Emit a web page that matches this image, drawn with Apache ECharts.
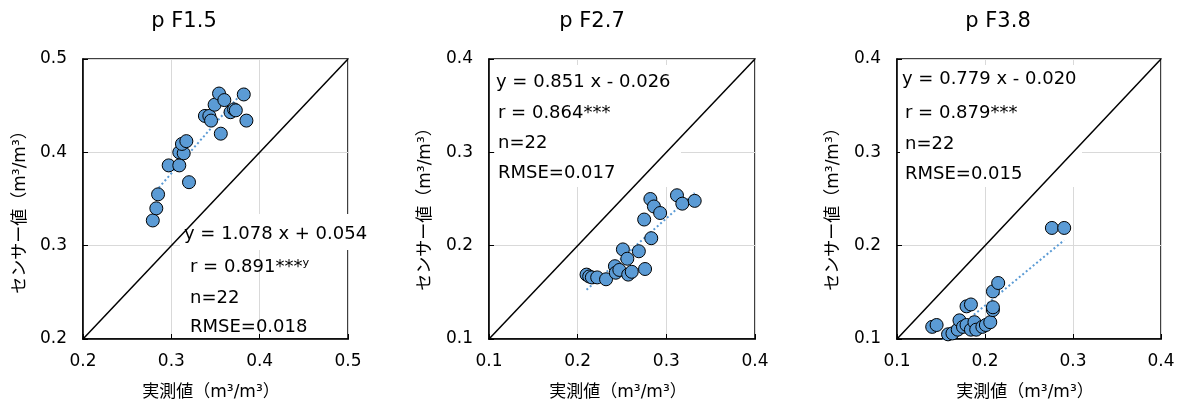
<!DOCTYPE html>
<html><head><meta charset="utf-8">
<script src="https://cdn.jsdelivr.net/npm/echarts@6.0.0/dist/echarts.min.js"></script>
<style>html,body{margin:0;padding:0;background:#fff}#c{width:1183px;height:403px}</style>
</head><body><div id="c"></div>
<script>
// ---- data ----
const panelTitles = ['p F1.5', 'p F2.7', 'p F3.8'];
const xAxisName = '実測値（m³/m³）';
const yAxisName = 'センサー値（m³/m³）';
const axisMin = [0.2, 0.1, 0.1];
const axisMax = [0.5, 0.4, 0.4];
const tickInterval = 0.1;

const pf15X = [0.279, 0.283, 0.285, 0.297, 0.309, 0.320, 0.309, 0.314, 0.312, 0.317, 0.338, 0.343, 0.345, 0.349, 0.354, 0.360, 0.367, 0.371, 0.373, 0.382, 0.385, 0.356];
const pf15Y = [0.327, 0.340, 0.355, 0.386, 0.386, 0.368, 0.400, 0.399, 0.409, 0.412, 0.439, 0.439, 0.434, 0.451, 0.463, 0.456, 0.443, 0.446, 0.445, 0.462, 0.434, 0.420];

const pf27X = [0.210, 0.213, 0.216, 0.222, 0.232, 0.242, 0.243, 0.247, 0.251, 0.256, 0.257, 0.261, 0.269, 0.276, 0.275, 0.283, 0.282, 0.286, 0.293, 0.312, 0.318, 0.332];
const pf27Y = [0.169, 0.167, 0.166, 0.166, 0.164, 0.178, 0.171, 0.174, 0.196, 0.186, 0.169, 0.172, 0.194, 0.175, 0.228, 0.208, 0.250, 0.242, 0.235, 0.254, 0.245, 0.248];

const pf38X = [0.140, 0.145, 0.158, 0.163, 0.169, 0.171, 0.175, 0.179, 0.179, 0.184, 0.184, 0.188, 0.190, 0.197, 0.201, 0.206, 0.209, 0.209, 0.209, 0.215, 0.276, 0.290];
const pf38Y = [0.113, 0.115, 0.105, 0.106, 0.110, 0.120, 0.113, 0.115, 0.135, 0.137, 0.110, 0.118, 0.110, 0.113, 0.115, 0.118, 0.131, 0.134, 0.151, 0.160, 0.219, 0.219];

const slopes = [1.078, 0.851, 0.779];
const intercepts = [0.054, -0.026, -0.020];
const eqLabels = ['y = 1.078 x + 0.054', 'y = 0.851 x - 0.026', 'y = 0.779 x - 0.020'];
const rLabels = ['r = 0.891***ʸ', 'r = 0.864***', 'r = 0.879***'];
const nLabels = ['n=22', 'n=22', 'n=22'];
const rmseLabels = ['RMSE=0.018', 'RMSE=0.017', 'RMSE=0.015'];

// ---- layout / styles ----
const FONT = '"DejaVu Sans", "Noto Sans CJK JP", sans-serif';
const xs = [pf15X, pf27X, pf38X];
const ys = [pf15Y, pf27Y, pf38Y];
const gridPos = [
  {left: 83, top: 59, width: 265, height: 280},
  {left: 489, top: 59, width: 266, height: 280},
  {left: 897, top: 59, width: 264, height: 280}
];
const titlePos = [[184, 22], [592, 22], [998, 22]];
const xNamePos = [[211, 393], [618, 393], [1025, 393]];
const yNamePos = [[21, 208], [426, 205], [834, 205]];
// [x, y] for the 4 text lines
const textPos = [
  [[184, 234], [190, 267], [190, 298], [190, 327]],
  [[496, 82], [498, 113], [498, 143], [498, 173]],
  [[902, 79], [905, 113], [905, 144], [905, 174]]
];
const boxes = [
  {x: 180, y: 214, width: 194, height: 36},
  {x: 495, y: 65, width: 186, height: 122},
  {x: 900, y: 65, width: 182, height: 122}
];

function axisCommon(i, isX) {
  return {
    gridIndex: i, type: 'value', min: axisMin[i], max: axisMax[i], interval: tickInterval,
    axisLine: {show: true, onZero: false, lineStyle: {color: '#000', width: 1.5}},
    axisTick: {show: true, inside: true, length: 5, lineStyle: {color: '#000', width: 1}},
    axisLabel: {show: true, margin: isX ? 14 : 16, fontSize: 17, fontFamily: FONT, color: '#000',
      showMinLabel: true, showMaxLabel: true, formatter: v => v.toFixed(1)},
    splitLine: {show: true, lineStyle: {color: '#d9d9d9', width: 1}}
  };
}

const grid = [], xAxis = [], yAxis = [], series = [], graphic = [];
for (let i = 0; i < 3; i++) {
  grid.push(Object.assign({show: true, borderColor: '#000', borderWidth: 1.5, backgroundColor: 'transparent', outerBoundsMode: 'none'}, gridPos[i]));
  xAxis.push(axisCommon(i, true));
  yAxis.push(axisCommon(i, false));
  const pts = xs[i].map((x, j) => [x, ys[i][j]]);
  const xmin = Math.min(...xs[i]), xmax = Math.max(...xs[i]);
  series.push({
    type: 'scatter', xAxisIndex: i, yAxisIndex: i, data: pts, symbolSize: 13, silent: true, z: 60,
    itemStyle: {color: '#5B9BD5', borderColor: '#000', borderWidth: 1, opacity: 1}
  });
  series.push({
    type: 'line', xAxisIndex: i, yAxisIndex: i, showSymbol: false, silent: true, clip: true, z: 55,
    data: [[xmin, slopes[i] * xmin + intercepts[i]], [xmax, slopes[i] * xmax + intercepts[i]]],
    lineStyle: {color: '#5B9BD5', width: 2, type: [2, 2.5]}
  });
  series.push({
    type: 'line', xAxisIndex: i, yAxisIndex: i, showSymbol: false, silent: true, z: 100,
    data: [[axisMin[i], axisMin[i]], [axisMax[i], axisMax[i]]],
    lineStyle: {color: '#000', width: 1.5}
  });
  graphic.push({type: 'rect', z: 50, shape: boxes[i], style: {fill: '#fff'}});
  graphic.push({type: 'text', z: 70, x: titlePos[i][0], y: titlePos[i][1],
    style: {text: panelTitles[i], fontSize: 21, fontFamily: FONT, fill: '#000', align: 'center', verticalAlign: 'middle'}});
  graphic.push({type: 'text', z: 70, x: xNamePos[i][0], y: xNamePos[i][1],
    style: {text: xAxisName, fontSize: 17, fontFamily: FONT, fill: '#000', align: 'center', verticalAlign: 'middle'}});
  graphic.push({type: 'text', z: 70, x: yNamePos[i][0], y: yNamePos[i][1], rotation: Math.PI / 2,
    style: {text: yAxisName, fontSize: 17, fontFamily: FONT, fill: '#000', align: 'center', verticalAlign: 'middle'}});
  const lines = [eqLabels[i], rLabels[i], nLabels[i], rmseLabels[i]];
  lines.forEach((t, k) => {
    graphic.push({type: 'text', z: 70, x: textPos[i][k][0], y: textPos[i][k][1],
      style: {text: t, fontSize: 18, fontFamily: FONT, fill: '#000', align: 'left', verticalAlign: 'middle'}});
  });
}

const chart = echarts.init(document.getElementById('c'), null, {renderer: 'canvas'});
chart.setOption({animation: false, backgroundColor: '#fff', grid, xAxis, yAxis, series, graphic});
</script></body></html>
